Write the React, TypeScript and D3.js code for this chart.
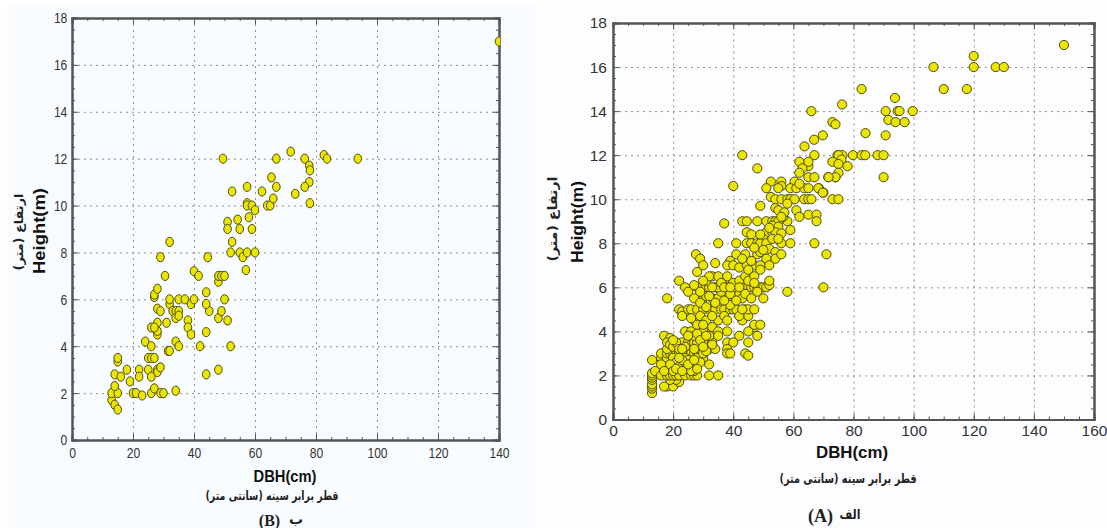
import React, { useEffect, useRef } from 'react';
import * as d3 from 'd3';

type Pt = [number, number];

const xTicksA = [0, 20, 40, 60, 80, 100, 120, 140, 160];
const xTicksB = [0, 20, 40, 60, 80, 100, 120, 140];
const yTicks = [0, 2, 4, 6, 8, 10, 12, 14, 16, 18];

const xLabel = 'DBH(cm)';
const yLabel = 'Height(m)';
const yLabelFa = 'ارتفاع (متر)';
const xLabelFa = 'قطر برابر سینه (سانتی متر)';

// panel B, dbh / height
const standBLow: Pt[] = [
  [13, 1.7], [13, 2], [14, 1.5], [15, 1.3], [15, 2], [14, 2.3], [14, 2.8], [15, 3.35], [15, 3.5], [16, 2.7],
  [18, 3], [19, 2.5], [20, 2], [21, 2], [22, 3], [22, 2.7], [23, 1.9], [25, 3], [25, 3.5], [26, 3.5],
  [27, 3.5], [26, 2.7], [26, 2], [27, 2.2], [28, 3], [28, 2.9], [29, 3.1], [29, 2], [30, 2], [34, 2.1],
  [24, 4.2], [26, 4], [26, 4.8], [28, 4.5], [28, 4.65], [28, 5], [27, 4.8], [31.5, 3.8], [32, 3.8], [34, 4.2],
  [35, 4], [31, 5], [28, 5.6], [29, 5.5], [32, 5.8], [32, 6], [33, 5.5], [34, 5.5], [34, 5.2], [35, 5.5],
  [35, 5.3], [35, 6], [37, 6], [39, 5.8], [40, 6], [38, 5.1], [38, 4.8], [39, 4.5], [42, 4], [44, 4.6],
  [44, 2.8], [48, 3], [45, 5.5], [44, 5.8], [44, 6.3], [48, 5.2], [49, 5.5], [51, 5.1], [50, 6], [52, 4],
  [27, 6.1], [27, 6.2], [28, 6.45],
];
const standBHigh: Pt[] = [
  [30.5, 7], [40, 7.2], [41.5, 7], [48, 6.75], [48, 7], [49, 7], [50, 7], [57, 7.25], [32, 8.45], [29, 7.8],
  [44.5, 7.8], [49.5, 12], [52, 8], [52.5, 10.6], [51, 9.3], [51, 9], [52.5, 8.45], [54.3, 9.4], [55, 9], [55, 8],
  [56, 7.8], [57.4, 8], [58, 9.5], [59, 9], [57.4, 10.8], [57.4, 10.1], [57.4, 10], [59, 10], [60, 9.8], [60, 8],
  [62.3, 10.6], [64, 10], [65, 10], [66, 10.3], [65.4, 11.2], [67, 10.8], [67, 12], [71.7, 12.3], [76.3, 12], [77.8, 11.7],
  [78, 11.5], [77.8, 11], [76.3, 10.8], [73.2, 10.5], [78, 10.1], [82.6, 12.15], [83.6, 12], [93.7, 12], [140, 17],
];

// panel A, split by height band
const standALow: Pt[] = [
  [13, 1.2], [13, 1.4], [13, 1.5], [13, 1.6], [13, 1.8], [13, 1.9], [13, 2], [13, 2.1], [14, 2.2], [13, 2.7],
  [18, 1.5], [20, 1.5], [17, 1.5], [22, 1.7], [21, 1.8], [19, 1.8], [16, 2], [18, 2], [19, 2], [20, 2],
  [21, 2], [22, 2], [24, 2], [26, 2], [27, 2], [28, 2], [32, 2], [35, 2], [18, 2.3], [20, 2.5],
  [23, 2.4], [25, 2.3], [27, 2.2], [27, 2.4], [28, 2.5], [32, 2.5], [16, 2.8], [16, 3], [18, 2.8], [18, 3],
  [19, 3], [20, 3], [21, 3], [22, 3], [23, 3], [24, 3], [25, 3], [26, 3], [27, 3], [28, 3],
  [29, 3], [30, 2.8], [29, 3.2], [17, 3.8], [19, 3.7], [18, 3.2], [18, 3.5], [19, 3.4], [22, 3.4], [23, 3.5],
  [25, 3.5], [26, 3.4], [27, 3.5], [28, 3.5], [30, 3.5], [32, 3.2], [33, 3.5], [34, 3.2], [33, 3.4], [24, 4],
  [26, 4], [27, 3.8], [29, 4], [30, 4], [32, 3.8], [33, 4.2], [35, 4], [35, 3.8], [38, 4], [38, 3.5],
  [38, 3.2], [38, 3], [39, 3], [40, 3.5], [42, 3.8], [44, 3], [45, 2.9], [45, 3.5], [20, 2.8], [21, 2.6],
  [22, 2.4], [24, 2.6], [24, 2.8], [26, 2.6], [25, 2.7], [23, 2.7], [19, 2.5], [20, 2.2], [28, 2.8], [26, 2.2],
  [21, 2.3], [29, 2.6], [30, 3], [31, 3.1], [20, 3.3], [21, 3.5], [22, 3.2], [24, 3.3], [25, 3.8], [27, 3.2],
  [28, 3.9], [29, 3.6], [30, 3.3], [31, 3.8], [23, 2.2], [25, 2.5], [22, 2.8], [27, 2.7], [23, 3.2], [28, 2.3],
  [20, 3.6], [16, 2.5], [17, 2.2],
];
const standAMid: Pt[] = [
  [18, 5.5], [22, 6.3], [24, 6], [25, 5.8], [27, 5.5], [28, 6.7], [22, 5], [23, 4.9], [23, 4.7], [25, 5],
  [26, 5], [27, 4.5], [28, 5], [30, 5], [29, 4.7], [31, 4.5], [32, 5], [33, 5], [34, 5], [35, 4.5],
  [36, 5], [37, 5], [37, 4.7], [38, 4.5], [39, 5], [40, 5], [41, 5], [43, 4.5], [44, 5], [45, 4.7],
  [45, 5], [42, 4.7], [47, 4.2], [48, 3.8], [45, 4], [47, 4.3], [49, 4.3], [30, 5.5], [31, 5.6], [33, 5.5],
  [35, 5.5], [36, 5.8], [38, 5.5], [39, 5.2], [30, 6], [32, 6], [34, 6], [35, 6], [38, 6.2], [38, 6],
  [40, 6], [41, 6], [43, 6], [44, 6], [45, 6], [46, 6], [47, 6], [48, 6], [49, 6], [50, 6],
  [51, 6], [52, 6.1], [28, 6], [29, 5.8], [31, 6.3], [33, 6.5], [35, 6.5], [38, 6.5], [40, 6.2], [42, 6.3],
  [44, 6.5], [45, 6.3], [42, 5.7], [43, 5.5], [50, 5.5], [48, 5.8], [44, 5.7], [43, 5], [47, 5], [46, 5.5],
  [58, 5.8], [70, 6], [29, 5.3], [31, 5.1], [33, 4.7], [34, 5.3], [32, 5.6], [37, 5.4], [39, 5.7], [41, 5.4],
  [33, 6], [36, 6.2], [37, 6], [39, 6], [42, 6], [28, 4.3], [30, 4.3], [26, 4.6],
];
const standAUpper: Pt[] = [
  [43, 12], [48, 11.4], [40, 10.6], [62, 11.7], [65, 11.5], [63, 11.4], [62, 11.2], [65, 11], [67, 11], [71.6, 11],
  [74, 11], [52.5, 10.8], [56, 10.8], [56, 10.6], [60.4, 10.8], [51, 10.5], [55, 10.5], [59, 10.5], [61, 10.5], [63.6, 10.5],
  [65, 10.5], [62, 10.7], [68.5, 10.5], [70, 10.3], [52.5, 10.1], [54, 10], [56, 10], [58, 10], [59, 10], [60.4, 10],
  [63.6, 10], [65, 10], [66, 10], [73, 10], [75, 10], [49, 9.7], [54, 9.6], [55, 9.5], [58, 9.8], [61, 9.5],
  [62, 9.2], [65, 9.3], [67.7, 9.3], [67.7, 9], [37, 8.9], [43, 9], [44.5, 9], [48, 9], [51, 9], [53, 9],
  [54, 9], [55, 9], [58, 9], [56.6, 9.2], [57, 9.4], [56, 9.2], [53, 8.8], [55, 8.75], [51, 8.5], [53, 8.5],
  [54, 8.5], [56, 8.45], [59, 8.6], [44.5, 8.5], [46, 8.4], [50, 8.2], [35, 8], [41, 8], [44.5, 8], [46, 8],
  [48, 8], [49, 8], [51, 8], [56, 8], [59, 8], [67, 8], [71, 7.5], [27.6, 7.5], [29, 7.3], [30, 7],
  [34, 7.1], [41, 7.5], [44, 7.5], [48, 7.5], [49, 7.6], [52, 7.75], [54, 7.6], [54, 7.3], [56, 7.5], [51, 7.3],
  [39, 7.2], [38, 7], [40, 7], [42, 6.9], [44.5, 7], [47, 7], [49, 7], [52, 7], [45, 6.8], [49, 6.8],
  [32, 6.5], [27, 6.1], [30, 6.3], [47, 6.5], [47, 6.2], [52, 6.3], [50, 7.7], [53, 8.2], [47, 7.8], [43, 7.3],
  [46, 7.2], [55, 8.2], [52, 8.7], [49, 8.4],
];
const standATop: Pt[] = [
  [150, 17], [120, 16.5], [120, 16], [106.6, 16], [127.3, 16], [130, 16], [110, 15], [117.7, 15], [82.7, 15], [93.8, 14.6],
  [66, 14], [76.2, 14.3], [90.7, 14], [94.7, 14], [95.3, 14], [99.7, 14], [91.6, 13.6], [94, 13.5], [97, 13.5], [73, 13.5],
  [74, 13.4], [84, 13], [69.8, 12.9], [66.9, 12.7], [63.7, 12.4], [90.7, 12.9], [67, 12], [74.7, 12], [76.3, 12], [75, 12],
  [79.8, 12], [82.7, 12], [83.9, 12], [88, 12], [90, 12], [73, 11.7], [76, 11.8], [65, 11.7], [75, 11.6], [78, 11.5],
  [75, 11.2], [74, 11], [71.7, 11], [90, 11], [68.3, 10.5], [69.8, 10.3],
];

const pointsA = [...standALow, ...standAMid, ...standAUpper, ...standATop];
const pointsB = [...standBLow, ...standBHigh];

const range = (a: number, b: number, s: number) => d3.range(a, b + s / 2, s);

const Panel = ({ points, xTicks, box, squeeze, rx, ry, pad }: any) => {
  const ref = useRef<SVGGElement>(null);

  useEffect(() => {
    const [left, top, right, bottom] = box;
    const g = d3.select(ref.current);
    g.selectAll('*').remove();

    const xMax = xTicks[xTicks.length - 1];
    const x = d3.scaleLinear().domain([0, xMax]).range([left, right]);
    const y = d3.scaleLinear().domain([0, 18]).range([bottom, top]);
    const h = bottom - top;
    const w = right - left;

    // dotted grid
    const grid = g.append('g').attr('fill', 'none');
    grid.append('g').attr('transform', `translate(0,${bottom})`)
      .call(d3.axisBottom(x).tickValues(xTicks.slice(1, -1)).tickSize(-h).tickFormat(() => ''));
    grid.append('g').attr('transform', `translate(${left},0)`)
      .call(d3.axisLeft(y).tickValues(yTicks.slice(1, -1)).tickSize(-w).tickFormat(() => ''));
    grid.selectAll('.domain').remove();
    grid.selectAll('line').attr('stroke', '#8f8f8f').attr('stroke-width', 1).attr('stroke-dasharray', '2 4');

    // minor + major ticks on all four sides
    const frame = g.append('g');
    const addAxis = (axis: any, tx: number, ty: number) =>
      frame.append('g').attr('transform', `translate(${tx},${ty})`).call(axis);
    const none = () => '';
    const xMinor = range(0, xMax, 5);
    const yMinor = range(0, 18, 0.5);
    addAxis(d3.axisBottom(x).tickValues(xMinor).tickSize(-3).tickFormat(none), 0, bottom);
    addAxis(d3.axisTop(x).tickValues(xMinor).tickSize(-3).tickFormat(none), 0, top);
    addAxis(d3.axisLeft(y).tickValues(yMinor).tickSize(-3).tickFormat(none), left, 0);
    addAxis(d3.axisRight(y).tickValues(yMinor).tickSize(-3).tickFormat(none), right, 0);
    addAxis(d3.axisTop(x).tickValues(xTicks).tickSize(-6).tickFormat(none), 0, top);
    addAxis(d3.axisRight(y).tickValues(yTicks).tickSize(-6).tickFormat(none), right, 0);
    const xAxis = addAxis(d3.axisBottom(x).tickValues(xTicks).tickSize(-6).tickPadding(pad), 0, bottom);
    const yAxis = addAxis(d3.axisLeft(y).tickValues(yTicks).tickSize(-6).tickPadding(6), left, 0);
    frame.selectAll('.domain').attr('stroke', '#555').attr('stroke-width', 2);
    frame.selectAll('line').attr('stroke', '#555').attr('stroke-width', 1);
    frame.selectAll('text').attr('font-size', 15.5).attr('fill', '#333')
      .attr('font-family', 'Liberation Sans, Arial, sans-serif');
    xAxis.selectAll('text').attr('transform', `scale(${squeeze},1)`);
    yAxis.selectAll('text').attr('transform', `scale(${squeeze},1)`);

    const clipId = `clip-${left}`;
    g.append('clipPath').attr('id', clipId).append('rect')
      .attr('x', left).attr('y', top).attr('width', w + 1).attr('height', h);

    g.append('g').attr('clip-path', `url(#${clipId})`)
      .selectAll('ellipse')
      .data(points)
      .join('ellipse')
      .attr('cx', (d: any) => x(d[0]))
      .attr('cy', (d: any) => y(d[1]))
      .attr('rx', rx)
      .attr('ry', ry)
      .attr('fill', '#ebe600')
      .attr('stroke', '#4d4b14')
      .attr('stroke-width', 1);
  }, []);

  return <g ref={ref} />;
};

const sans = 'Liberation Sans, Arial, sans-serif';
const fa = 'DejaVu Sans, sans-serif';
const serif = 'Liberation Serif, serif';

export default function App() {
  return (
    <svg width={1107} height={528} style={{ position: 'absolute', left: 0, top: 0 }}>
      <rect width={1107} height={528} fill="#ffffff" />
      <rect x={7} y={5} width={528} height={523} fill="#f9fcff" />
      <rect x={535} y={5} width={572} height={523} fill="#fdfdff" />

      <Panel points={pointsB} xTicks={xTicksB} box={[72, 18, 499, 440]} squeeze={0.78} rx={3.8} ry={4.6} pad={7} />
      <Panel points={pointsA} xTicks={xTicksA} box={[613, 23, 1094, 419.5]} squeeze={1} rx={4.6} ry={4.6} pad={5} />

      {/* panel B labels */}
      <text x={285} y={482} textAnchor="middle" fontFamily={sans} fontWeight="bold" fontSize={16} textLength={63} lengthAdjust="spacingAndGlyphs" fill="#111">{xLabel}</text>
      <text x={272} y={500} textAnchor="middle" fontFamily={fa} fontWeight="bold" fontSize={12.5} textLength={133} lengthAdjust="spacingAndGlyphs" fill="#222" direction="rtl">{xLabelFa}</text>
      <text x={269.5} y={526} textAnchor="middle" fontFamily={serif} fontWeight="bold" fontSize={16} fill="#222">(B)</text>
      <text x={296} y={524} textAnchor="middle" fontFamily={fa} fontWeight="bold" fontSize={14} fill="#222">ب</text>
      <text transform="translate(45,231) rotate(-90)" textAnchor="middle" fontFamily={sans} fontWeight="bold" fontSize={17} textLength={86} lengthAdjust="spacingAndGlyphs" fill="#111">{yLabel}</text>
      <text transform="translate(23,232) rotate(-90)" textAnchor="middle" fontFamily={fa} fontWeight="bold" fontSize={12} textLength={77} lengthAdjust="spacingAndGlyphs" fill="#222" direction="rtl">{yLabelFa}</text>

      {/* panel A labels */}
      <text x={852} y={458} textAnchor="middle" fontFamily={sans} fontWeight="bold" fontSize={17} textLength={72} lengthAdjust="spacingAndGlyphs" fill="#111">{xLabel}</text>
      <text x={848} y={483} textAnchor="middle" fontFamily={fa} fontWeight="bold" fontSize={13} textLength={137} lengthAdjust="spacingAndGlyphs" fill="#222" direction="rtl">{xLabelFa}</text>
      <text x={820.5} y={522} textAnchor="middle" fontFamily={serif} fontWeight="bold" fontSize={18} fill="#222">(A)</text>
      <text x={850} y={519} textAnchor="middle" fontFamily={fa} fontWeight="bold" fontSize={13} textLength={21} lengthAdjust="spacingAndGlyphs" fill="#222">الف</text>
      <text transform="translate(583,222) rotate(-90)" textAnchor="middle" fontFamily={sans} fontWeight="bold" fontSize={17} textLength={82} lengthAdjust="spacingAndGlyphs" fill="#111">{yLabel}</text>
      <text transform="translate(557,219) rotate(-90)" textAnchor="middle" fontFamily={fa} fontWeight="bold" fontSize={12.5} textLength={85} lengthAdjust="spacingAndGlyphs" fill="#222" direction="rtl">{yLabelFa}</text>
    </svg>
  );
}
